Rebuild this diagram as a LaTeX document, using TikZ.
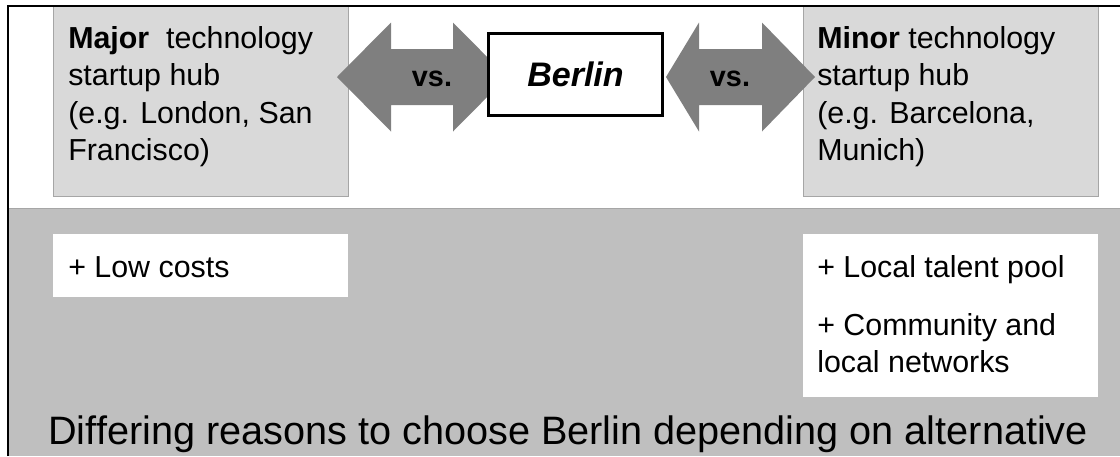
\documentclass[tikz,border=0pt]{standalone}
\usepackage{fontspec}
\setmainfont{Liberation Sans}
\usetikzlibrary{positioning}
\definecolor{hubgray}{HTML}{D9D9D9}
\definecolor{panelgray}{HTML}{BFBFBF}
\definecolor{arrowgray}{HTML}{7F7F7F}
\definecolor{edgegray}{HTML}{A6A6A6}
\tikzset{
hub box/.style = { rectangle, draw = edgegray, fill = hubgray, line width = 0.4pt, minimum width = 7.375cm, minimum height = 4.75cm, anchor = north west, inner sep = 0pt },
plus box/.style = { rectangle, draw = none, fill = white, minimum width = 7.375cm, anchor = north west, inner sep = 0pt },
city box/.style = { rectangle, draw = black, fill = white, line width = 2.1pt, minimum width = 4.35cm, minimum height = 2.05cm, inner sep = 0pt, font = \fontsize{24.2}{29}\selectfont\bfseries\itshape },
block arrow/.style = { fill = arrowgray, draw = none },
vs label/.style = { anchor = base, inner sep = 0pt, font = \fontsize{20.5}{25}\selectfont\bfseries },
hub text/.style = { anchor = north west, align = left, inner sep = 0pt, font = \fontsize{21.6}{26.6}\selectfont },
plus text/.style = { anchor = base west, inner sep = 0pt, font = \fontsize{21.6}{26.6}\selectfont },
title text/.style = { anchor = base west, inner sep = 0pt, font = \fontsize{28.2}{34}\selectfont },
frame/.style = { draw = black, line width = 1.7pt },
}
\begin{document}
\begin{tikzpicture}[x = 0.025cm, y = -0.025cm]
      \useasboundingbox (0,0) rectangle (1120,456);
      % lower panel
      \fill[panelgray] (8,208) rectangle (1120,456);
      \draw[edgegray, line width = 0.6pt] (8,208) -- (1120,208);
      \begin{scope}
        \node[hub box] (major) at (53,6) {};
        \node[hub box] (minor) at (803,6) {};
        \node[plus box, minimum height = 1.575cm] (costs) at (53,234) {};
        \node[plus box, minimum height = 4.075cm] (talent) at (803,234) {};
      \end{scope}
      % double block arrows
      \fill[block arrow] (337,77) -- (391,22.5) -- (391,49) -- (453,49) -- (453,22.5) -- (507,77)
                         -- (453,131.5) -- (453,105) -- (391,105) -- (391,131.5) -- cycle;
      \fill[block arrow] (666,77) -- (699,22.5) -- (699,49) -- (762,49) -- (762,22.5) -- (815,77)
                         -- (762,131.5) -- (762,105) -- (699,105) -- (699,131.5) -- cycle;
      \node[city box] (berlin) at (575.5,74.5) {Berlin};
      \node[vs label] (vsL) at (432,86) {vs.};
      \node[vs label] (vsR) at (730,86) {vs.};
      \begin{scope}
        \node[hub text] (majortxt) at (68,26.2) {\textbf{Major}~ technology\\startup hub\\(e.g. London, San\\Francisco)};
        \node[hub text] (minortxt) at (817,26.2) {\textbf{Minor} technology\\startup hub\\(e.g. Barcelona,\\Munich)};
        \node[plus text] (coststxt) at (68,277) {+ Low costs};
        \node[plus text] (talenttxt) at (817,277) {+ Local talent pool};
        \node[hub text] (networktxt) at (817,313.2) {+ Community and\\local networks};
      \end{scope}
      \node[title text] (reasons) at (48,444) {Differing reasons to choose Berlin depending on alternative};
      \draw[frame] (8,456) -- (8,6) -- (1120,6);
\end{tikzpicture}
\end{document}
